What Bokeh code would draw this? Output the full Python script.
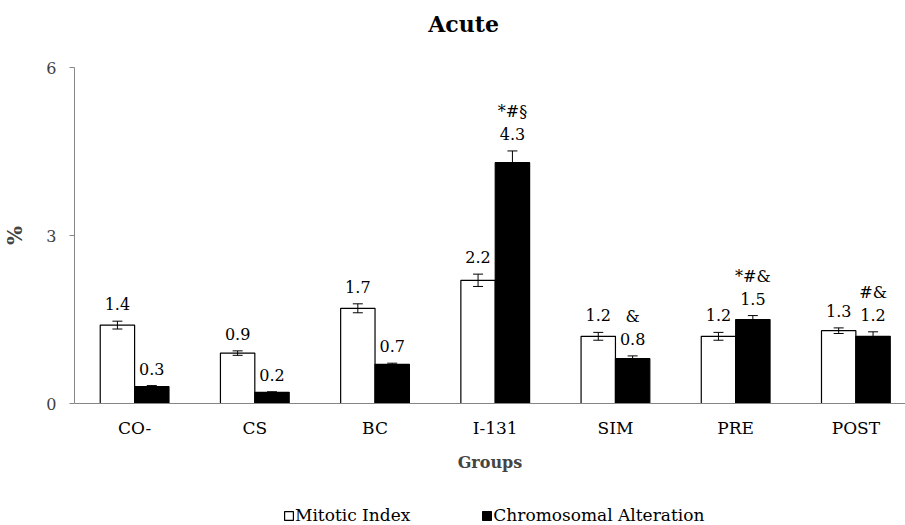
from bokeh.plotting import figure
from bokeh.layouts import column
from bokeh.models import (Range1d, FixedTicker, ColumnDataSource, Whisker, TeeHead,
                          Legend, LegendItem, Label)
from bokeh.core.properties import value
from bokeh.embed import file_html
from bokeh.resources import INLINE

# ---- data ----
groups = ["CO-", "CS", "BC", "I-131", "SIM", "PRE", "POST"]
mitotic = [1.4, 0.9, 1.7, 2.2, 1.2, 1.2, 1.3]
mitotic_err = [0.07, 0.04, 0.08, 0.11, 0.07, 0.07, 0.05]
chromosomal = [0.3, 0.2, 0.7, 4.3, 0.8, 1.5, 1.2]
chromosomal_err = [0.02, 0.01, 0.02, 0.21, 0.05, 0.07, 0.08]
significance = ["", "", "", "*#\u00a7", "&", "*#&", "#&"]
y_ticks = [0, 3, 6]
series_names = ["Mitotic Index", "Chromosomal Alteration"]
title_text = "Acute"

FONT = "DejaVu Serif"
positions = list(range(1, len(groups) + 1))
off = 0.143
bar_w = 0.286

src_mi = ColumnDataSource(dict(
    x=[g - off for g in positions],
    top=mitotic,
    upper=[v + e for v, e in zip(mitotic, mitotic_err)],
    lower=[v - e for v, e in zip(mitotic, mitotic_err)],
    label=[f"{v:.1f}" for v in mitotic],
))
src_ca = ColumnDataSource(dict(
    x=[g + off for g in positions],
    top=chromosomal,
    upper=[v + e for v, e in zip(chromosomal, chromosomal_err)],
    lower=[v - e for v, e in zip(chromosomal, chromosomal_err)],
    label=[f"{v:.1f}" for v in chromosomal],
    sig=significance,
))

W = 905
LEFT = 72          # plot-area left edge (frames of the column are aligned)
TITLE_H = 46
LEGEND_H = 25
MAIN_H = 525 - TITLE_H - LEGEND_H


def strip(height, x0=LEFT, y0=0):
    f = figure(width=W, height=height, x_range=Range1d(x0, x0 + W - LEFT),
               y_range=Range1d(y0, y0 + height),
               output_backend="svg", toolbar_location=None,
               x_axis_type=None, y_axis_type=None,
               min_border_left=LEFT, min_border_right=0,
               min_border_top=0, min_border_bottom=0)
    f.outline_line_color = None
    f.xgrid.visible = False
    f.ygrid.visible = False
    return f


# ---- title strip ----
tp = strip(TITLE_H)
tp.add_layout(Label(x=462, y=TITLE_H - 23, text=title_text,
                    text_align="center", text_baseline="middle",
                    text_font=FONT, text_font_style="bold",
                    text_font_size="22px", text_color="black"))

# ---- main chart ----
p = figure(width=W, height=MAIN_H,
           x_range=Range1d(0.5, 0.5 + (W - LEFT) / 120.5), y_range=Range1d(0, 6),
           output_backend="svg", toolbar_location=None,
           min_border_left=LEFT, min_border_right=0,
           min_border_top=67 - TITLE_H, min_border_bottom=97)

p.outline_line_color = None
p.xgrid.visible = False
p.ygrid.visible = False
p.background_fill_color = "white"

r_mi = p.vbar(x="x", top="top", width=bar_w, source=src_mi,
              fill_color="white", line_color="black", line_width=1.2)
r_ca = p.vbar(x="x", top="top", width=bar_w, source=src_ca,
              fill_color="black", line_color="black", line_width=1.2)

for src in (src_mi, src_ca):
    w = Whisker(source=src, base="x", upper="upper", lower="lower",
                line_color="black", line_width=1,
                upper_head=TeeHead(size=10, line_color="black", line_width=1),
                lower_head=TeeHead(size=10, line_color="black", line_width=1),
                level="annotation")
    p.add_layout(w)

for src in (src_mi, src_ca):
    p.text(x="x", y="upper", text="label", source=src,
           text_align="center", text_baseline="middle", y_offset=-17,
           text_font=value(FONT), text_font_size="16px", text_color="black")

p.text(x="x", y="upper", text="sig", source=src_ca,
       text_align="center", text_baseline="middle", y_offset=-39,
       text_font=value(FONT), text_font_size="16px", text_color="black")

# y axis
ya = p.yaxis[0]
ya.ticker = FixedTicker(ticks=y_ticks)
ya.minor_tick_line_color = None
ya.major_tick_out = 5
ya.major_tick_in = 0
ya.axis_line_color = "#868686"
ya.major_tick_line_color = "#868686"
ya.major_label_text_font = FONT
ya.major_label_text_font_size = "16px"
ya.major_label_text_color = "#404040"
ya.major_label_standoff = 13
ya.axis_label = "%"
ya.axis_label_text_font = FONT
ya.axis_label_text_font_style = "bold"
ya.axis_label_text_font_size = "20px"
ya.axis_label_standoff = 16

# x axis
xa = p.xaxis[0]
xa.ticker = FixedTicker(ticks=positions)
xa.major_label_overrides = {g: name for g, name in zip(positions, groups)}
xa.minor_tick_line_color = None
xa.major_tick_out = 0
xa.major_tick_in = 0
xa.major_tick_line_color = None
xa.axis_line_color = "#868686"
xa.major_label_text_font = FONT
xa.major_label_text_font_size = "17px"
xa.major_label_text_color = "black"
xa.major_label_standoff = 14
xa.axis_label = "Groups"
xa.axis_label_text_font = FONT
xa.axis_label_text_font_style = "bold"
xa.axis_label_text_font_size = "16px"
xa.axis_label_standoff = 12

# ---- legend strip below the chart ----
# its ranges lie far away from the data, so only the legend keys show
lg = strip(LEGEND_H, x0=1000, y0=1000)
k_mi = lg.vbar(x="x", top="top", width=bar_w, source=src_mi,
               fill_color="white", line_color="black", line_width=1.2)
k_ca = lg.vbar(x="x", top="top", width=bar_w, source=src_ca,
               fill_color="black", line_color="black", line_width=1.2)
legend = Legend(items=[LegendItem(label=series_names[0], renderers=[k_mi]),
                       LegendItem(label=series_names[1], renderers=[k_ca])],
                orientation="horizontal", location=(281 - LEFT, 0),
                glyph_width=11, glyph_height=11, label_standoff=1,
                spacing=71, padding=0, margin=0,
                label_text_font=FONT, label_text_font_size="17px",
                label_text_color="black", label_height=18,
                border_line_color=None, background_fill_alpha=0)
lg.add_layout(legend, "center")

layout = column(tp, p, lg, spacing=0)
open("out.html", "w").write(file_html(layout, INLINE))
